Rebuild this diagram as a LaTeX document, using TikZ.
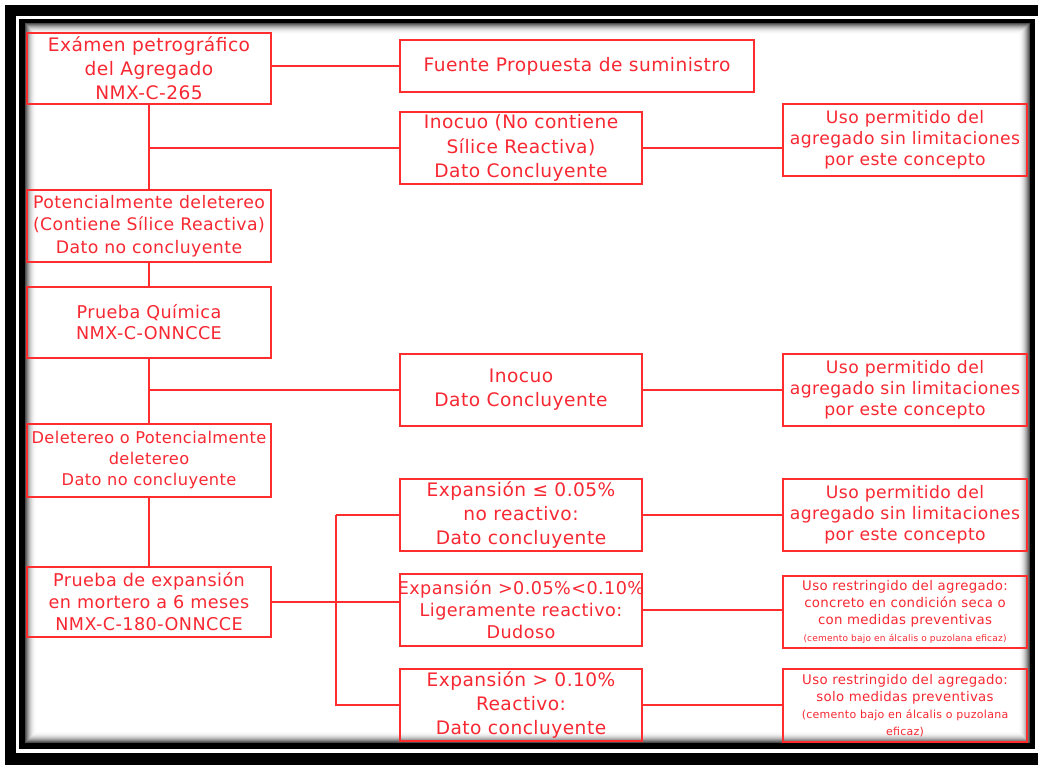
\documentclass[tikz,border=0pt]{standalone}
\usepackage{fontspec}
\setmainfont{DejaVu Sans}[LetterSpace=2.5]
\begin{document}
\definecolor{boxred}{RGB}{255,45,45}
\definecolor{txtred}{RGB}{248,40,50}
\begin{tikzpicture}[x=1pt,y=-1pt,
  box/.style={draw=boxred, line width=1.4pt, text=txtred, align=center,
    inner sep=0pt, minimum width=244pt, minimum height=72pt, font=\fontsize{18.6}{24}\selectfont},
  link/.style={draw=boxred, line width=1.4pt}]
% page and frame
\useasboundingbox (0,0) rectangle (1038,764);
\fill[white] (0,0) rectangle (1038,764);
\fill[black] (5,5) rectangle (1045,775);
\fill[white] (16,16) rectangle (1038,753);
\fill[black] (19,19) rectangle (1035,749);
\foreach \i/\g in {0/70,1/58,2/47,3/37,4/28,5/20,6/14,7/9,8/5,9/3,10/1} {
  \fill[black!\g!white] (25+\i,23+\i) rectangle (1030-\i,743-\i);
}
\fill[white] (36,34) rectangle (1019,732);

% left column
\node[box, minimum height=71pt] (A) at (149,68.5) {Exámen petrográfico\\del Agregado\\NMX-C-265};
\node[box, font=\fontsize{17.3}{22.5}\selectfont] (E) at (149,226) {Potencialmente deletereo\\(Contiene Sílice Reactiva)\\Dato no concluyente};
\node[box, minimum height=71pt, font=\fontsize{17.6}{21}\selectfont] (F) at (149,322.5) {Prueba Química\\NMX-C-ONNCCE};
\node[box, minimum height=73pt, font=\fontsize{16.2}{21}\selectfont] (I) at (149,460.5) {Deletereo o Potencialmente\\deletereo\\Dato no concluyente};
\node[box, minimum height=70pt, font=\fontsize{17.6}{22}\selectfont] (J) at (149,602) {Prueba de expansión\\en mortero a 6 meses\\NMX-C-180-ONNCCE};

% middle column
\node[box, minimum width=354pt, minimum height=52pt] (B) at (577,66) {Fuente Propuesta de suministro};
\node[box, minimum width=242pt, font=\fontsize{18.6}{24.5}\selectfont] (C) at (521,148) {Inocuo (No contiene\\Sílice Reactiva)\\Dato Concluyente};
\node[box, minimum width=242pt] (G) at (521,390) {Inocuo\\Dato Concluyente};
\node[box, minimum width=242pt] (K) at (521,515) {Expansión ≤ 0.05\%\\no reactivo:\\Dato concluyente};
\node[box, minimum width=242pt, inner xsep=-4pt, font=\fontsize{17.6}{22}\selectfont] (L) at (521,610) {Expansión >0.05\%<0.10\%\\Ligeramente reactivo:\\Dudoso};
\node[box, minimum width=242pt] (M) at (521,705) {Expansión > 0.10\%\\Reactivo:\\Dato concluyente};

% right column
\tikzset{usebox/.style={box, font=\fontsize{17.2}{21}\selectfont}}
\node[usebox] (D) at (905,140) {Uso permitido del\\agregado sin limitaciones\\por este concepto};
\node[usebox] (H) at (905,390) {Uso permitido del\\agregado sin limitaciones\\por este concepto};
\node[usebox] (N) at (905,515) {Uso permitido del\\agregado sin limitaciones\\por este concepto};
\node[box, font=\fontsize{13.3}{17}\selectfont] (O) at (905,612) {Uso restringido del agregado:\\concreto en condición seca o\\con medidas preventivas\\{\fontsize{9}{11}\selectfont(cemento bajo en álcalis o puzolana eficaz)}};
\node[box, minimum height=73pt, font=\fontsize{13.3}{17}\selectfont] (P) at (905,705.5) {Uso restringido del agregado:\\solo medidas preventivas\\{\fontsize{11}{14}\selectfont(cemento bajo en álcalis o puzolana}\\{\fontsize{11}{14}\selectfont eficaz)}};

% connectors
\coordinate (bus) at (336,516);
\draw[link] (A.east |- B.west) -- (B.west);
\draw[link] (A.south) -- (E.north);
\draw[link] (A.south |- C.west) -- (C.west);
\draw[link] (C.east) -- (D.west |- C.east);
\draw[link] (E.south) -- (F.north);
\draw[link] (F.south) -- (I.north);
\draw[link] (F.south |- G.west) -- (G.west);
\draw[link] (G.east) -- (H.west);
\draw[link] (I.south) -- (J.north);
\draw[link] (J.east) -- (L.west |- J.east);
\draw[link] (bus |- K.west) -- (K.west);
\draw[link] (bus |- K.west) -- (bus |- M.west) -- (M.west);
\draw[link] (K.east) -- (N.west);
\draw[link] (L.east) -- (O.west |- L.east);
\draw[link] (M.east) -- (P.west |- M.east);
\end{tikzpicture}
\end{document}
